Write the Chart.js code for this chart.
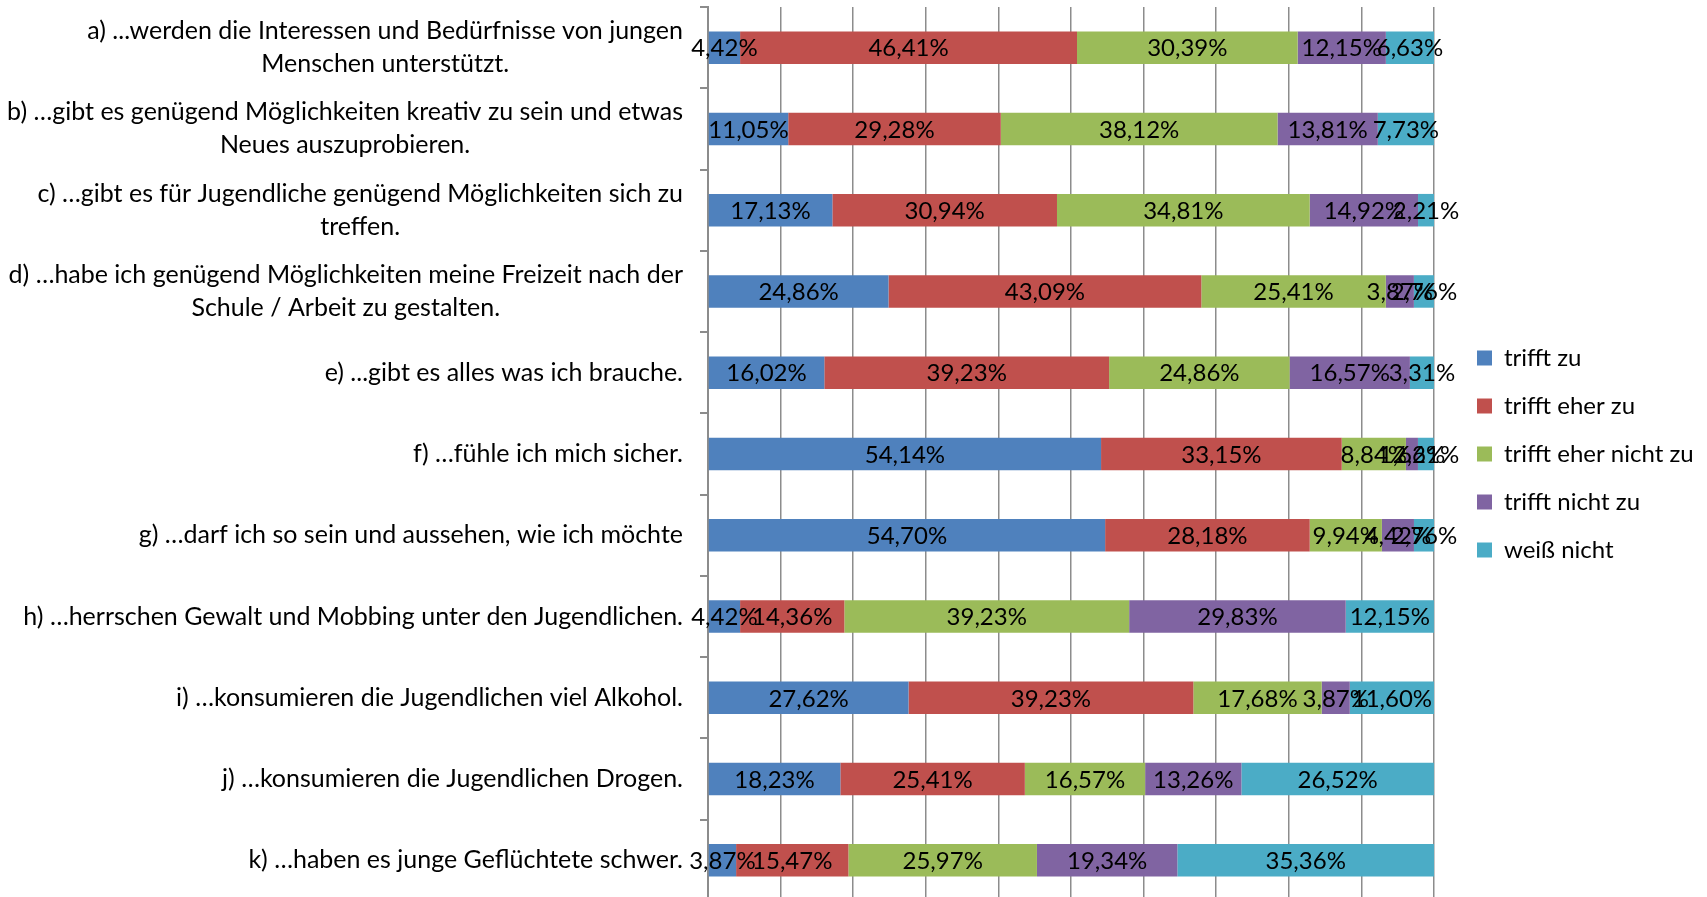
<!DOCTYPE html>
<html lang="de">
<head>
    <meta charset="UTF-8">
    <title>Jugendbefragung</title>
    <script src="https://cdn.jsdelivr.net/npm/chart.js"></script>
    <style>
        html, body {
            margin: 0;
            padding: 0;
            background: #fff;
            overflow: hidden;
        }
        .wrap {
            position: relative;
            width: 1707px;
            height: 901px;
        }
    </style>
</head>
<body>
    <div class="wrap">
        <canvas id="chart"></canvas>
    </div>

    <script>
        const categories = [
            ['a) ...werden die Interessen und Bedürfnisse von jungen', 'Menschen unterstützt.'],
            ['b) …gibt es genügend Möglichkeiten kreativ zu sein und etwas', 'Neues auszuprobieren.'],
            ['c) …gibt es für Jugendliche genügend Möglichkeiten sich zu', 'treffen.'],
            ['d) …habe ich genügend Möglichkeiten meine Freizeit nach der', 'Schule / Arbeit zu gestalten.'],
            ['e) ...gibt es alles was ich brauche.'],
            ['f) …fühle ich mich sicher.'],
            ['g) …darf ich so sein und aussehen, wie ich möchte'],
            ['h) …herrschen Gewalt und Mobbing unter den Jugendlichen.'],
            ['i) …konsumieren die Jugendlichen viel Alkohol.'],
            ['j) …konsumieren die Jugendlichen Drogen.'],
            ['k) …haben es junge Geflüchtete schwer.']
        ];

        const seriesNames = ['trifft zu', 'trifft eher zu', 'trifft eher nicht zu', 'trifft nicht zu', 'weiß nicht'];
        const seriesColors = ['#4F81BD', '#C0504D', '#9BBB59', '#8064A2', '#4BACC6'];

        const trifftZu         = [4.42, 11.05, 17.13, 24.86, 16.02, 54.14, 54.70, 4.42, 27.62, 18.23, 3.87];
        const trifftEherZu     = [46.41, 29.28, 30.94, 43.09, 39.23, 33.15, 28.18, 14.36, 39.23, 25.41, 15.47];
        const trifftEherNicht  = [30.39, 38.12, 34.81, 25.41, 24.86, 8.84, 9.94, 39.23, 17.68, 16.57, 25.97];
        const trifftNichtZu    = [12.15, 13.81, 14.92, 3.87, 16.57, 1.66, 4.42, 29.83, 3.87, 13.26, 19.34];
        const weissNicht       = [6.63, 7.73, 2.21, 2.76, 3.31, 2.21, 2.76, 12.15, 11.60, 26.52, 35.36];

        const xTicks = [0, 10, 20, 30, 40, 50, 60, 70, 80, 90, 100];

        const FONT = 'Lato, "Open Sans", sans-serif';
        const LABEL_SIZE = 24;
        const CAT_SIZE = 25;
        const LEGEND_SIZE = 24;

        const seriesValues = [trifftZu, trifftEherZu, trifftEherNicht, trifftNichtZu, weissNicht];

        function fmt(v) {
            return v.toFixed(2).replace('.', ',') + '%';
        }

        // labels inside each bar segment, centred like in Excel
        const barLabels = {
            id: 'barLabels',
            afterDatasetsDraw(chart) {
                const ctx = chart.ctx;
                ctx.save();
                ctx.font = LABEL_SIZE + 'px ' + FONT;
                ctx.fillStyle = '#000';
                ctx.textAlign = 'center';
                ctx.textBaseline = 'middle';
                chart.data.datasets.forEach((ds, i) => {
                    const meta = chart.getDatasetMeta(i);
                    meta.data.forEach((bar, j) => {
                        const cx = (bar.x + bar.base) / 2;
                        ctx.fillText(fmt(ds.data[j]), cx, bar.y + 1);
                    });
                });
                ctx.restore();
            }
        };

        // category labels: block right-aligned, lines centred on each other
        const catLabels = {
            id: 'catLabels',
            afterDraw(chart) {
                const ctx = chart.ctx;
                const scale = chart.scales.y;
                const right = chart.chartArea.left - 25;
                const lineH = 33;
                ctx.save();
                ctx.font = CAT_SIZE + 'px ' + FONT;
                ctx.fillStyle = '#000';
                ctx.textAlign = 'center';
                ctx.textBaseline = 'middle';
                categories.forEach((lines, i) => {
                    const y = scale.getPixelForTick(i);
                    const w = Math.max(...lines.map(l => ctx.measureText(l).width));
                    const cx = right - w / 2;
                    const y0 = y - (lines.length - 1) * lineH / 2;
                    lines.forEach((l, k) => ctx.fillText(l, cx, y0 + k * lineH));
                });
                ctx.restore();
            }
        };

        // legend sits a bit further from the plot than chart.js puts it
        const legendGap = {
            id: 'legendGap',
            beforeLayout(chart) {
                const lg = chart.legend;
                if (lg && !lg._wrapped) {
                    const fit = lg.fit.bind(lg);
                    lg.fit = function () {
                        fit();
                        this.width = 273;
                    };
                    lg._wrapped = true;
                }
            },
            afterLayout(chart) {
                const lg = chart.legend;
                if (lg) {
                    lg.left = chart.chartArea.right + 19;
                }
            }
        };

        const ctx = document.getElementById('chart').getContext('2d');
        new Chart(ctx, {
            type: 'bar',
            data: {
                labels: categories,
                datasets: seriesNames.map((name, i) => ({
                    label: name,
                    data: seriesValues[i],
                    backgroundColor: seriesColors[i],
                    borderWidth: 0,
                    barPercentage: 0.4,
                    categoryPercentage: 1
                }))
            },
            options: {
                indexAxis: 'y',
                responsive: true,
                maintainAspectRatio: false,
                animation: false,
                layout: { padding: { top: 7, right: 0, bottom: 0, left: 0 } },
                scales: {
                    x: {
                        stacked: true,
                        min: 0,
                        max: 100,
                        afterBuildTicks(scale) {
                            scale.ticks = xTicks.map(v => ({ value: v }));
                        },
                        ticks: { display: false },
                        grid: { color: '#8c8c8c', lineWidth: 1.5, drawTicks: false },
                        border: { display: false }
                    },
                    y: {
                        stacked: true,
                        afterFit(scale) {
                            scale.width = 708;
                        },
                        ticks: { display: false },
                        grid: {
                            offset: true,
                            drawOnChartArea: false,
                            drawTicks: true,
                            tickLength: 8,
                            color: '#8c8c8c',
                            lineWidth: 2
                        },
                        border: { color: '#8c8c8c', width: 2 }
                    }
                },
                plugins: {
                    legend: {
                        position: 'right',
                        labels: {
                            color: '#000',
                            font: { family: FONT, size: LEGEND_SIZE },
                            boxWidth: 15,
                            boxHeight: 15,
                            padding: 24
                        }
                    },
                    tooltip: { enabled: false }
                }
            },
            plugins: [barLabels, catLabels, legendGap]
        });
    </script>
</body>
</html>
